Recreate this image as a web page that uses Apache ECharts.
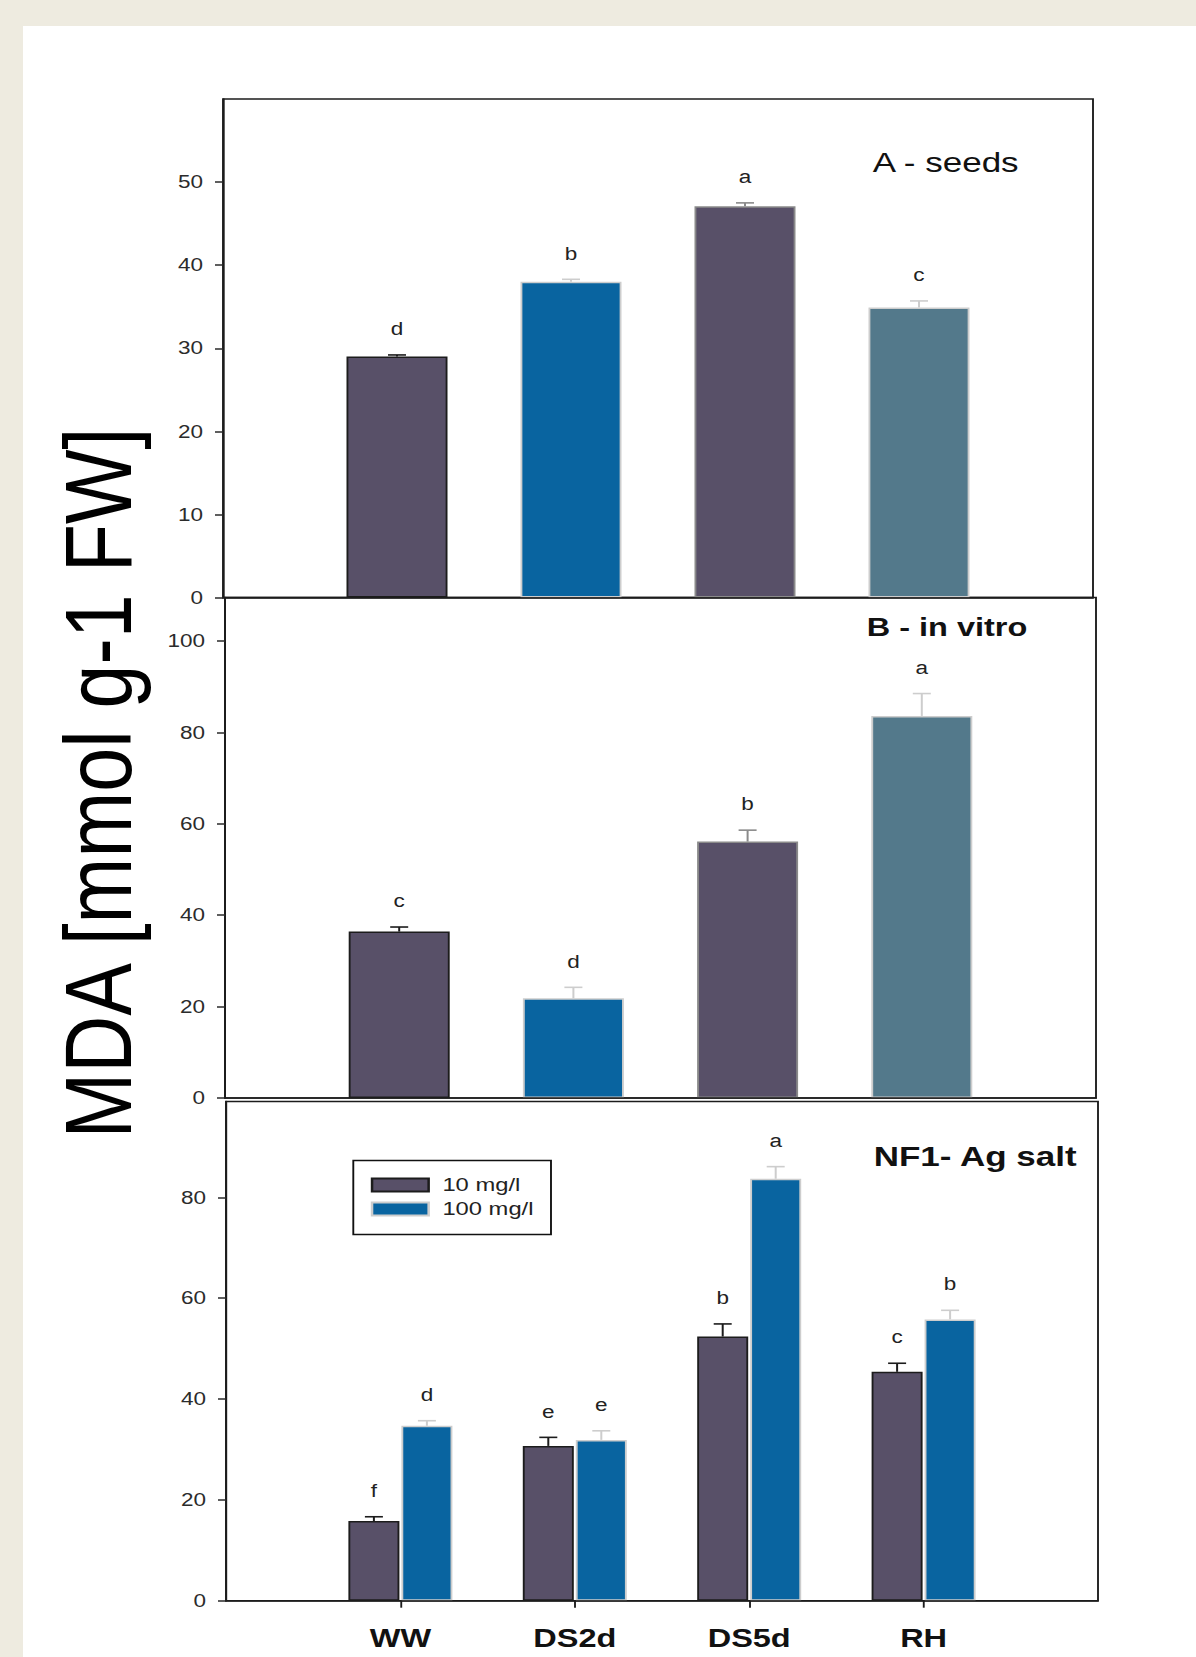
<!DOCTYPE html>
<html>
<head>
<meta charset="utf-8">
<script src="https://cdn.jsdelivr.net/npm/echarts@6/dist/echarts.min.js"></script>
<style>
  html, body { margin: 0; padding: 0; width: 1196px; height: 1657px; overflow: hidden; background: #EEEBE0; }
  #paper { position: absolute; left: 23px; top: 26px; right: 0; bottom: 0; background: #ffffff; }
  #chart { position: absolute; left: 0; top: 0; width: 957px; height: 1657px; transform: scaleX(1.25); transform-origin: 0 0; }
</style>
</head>
<body>
<div id="paper"></div>
<div id="chart"></div>
<script>
// ---------------- data ----------------
const categories = ['WW', 'DS2d', 'DS5d', 'RH'];

const seedsValues  = [29.0, 38.0, 47.1, 34.9];
const seedsErrors  = [0.2, 0.3, 0.4, 0.8];
const seedsLetters = ['d', 'b', 'a', 'c'];

const vitroValues  = [36.4, 21.8, 56.1, 83.6];
const vitroErrors  = [1.0, 2.4, 2.5, 4.9];
const vitroLetters = ['c', 'd', 'b', 'a'];

const salt10Values   = [15.8, 30.7, 52.4, 45.4];
const salt10Errors   = [0.85, 1.7, 2.5, 1.7];
const salt10Letters  = ['f', 'e', 'b', 'c'];

const salt100Values  = [34.7, 31.9, 83.7, 55.8];
const salt100Errors  = [1.0, 1.8, 2.4, 1.8];
const salt100Letters = ['d', 'e', 'a', 'b'];

const seedsTicks = [0, 10, 20, 30, 40, 50];
const vitroTicks = [0, 20, 40, 60, 80, 100];
const saltTicks  = [0, 20, 40, 60, 80];

const panelTitles = ['A - seeds', 'B - in vitro', 'NF1- Ag salt'];
const legendNames = ['10 mg/l', '100 mg/l'];
const yTitle = 'MDA [mmol g-1 FW]';

// ---------------- styling / layout ----------------
const SX = 1.25;                      // horizontal stretch of the figure (CSS transform)
const sx = px => px / SX;             // screen x -> chart x
const FONT = '"Liberation Sans", Arial, Helvetica, sans-serif';

const DARK = '#585068', BLUE = '#0964A0', TEAL = '#53798B';
const BLACK_EDGE = '#1c1c1c', GREY_EDGE = '#8a8a8a', LIGHT_EDGE = '#cdcdcd';

const singleFill = [DARK, BLUE, DARK, TEAL];
const singleEdge = [BLACK_EDGE, LIGHT_EDGE, GREY_EDGE, LIGHT_EDGE];

const xCats = [''].concat(categories, ['']);

const grids = [
  { left: sx(223), top: 99,     width: sx(870), height: 498.6 },
  { left: sx(225), top: 597.6,  width: sx(871), height: 500.3 },
  { left: sx(226), top: 1101.6, width: sx(872), height: 499.1 }
];
const yMax = [60, 109.5, 99];
const yTicks = [seedsTicks, vitroTicks, saltTicks];

function makeYAxis(i) {
  return {
    gridIndex: i, type: 'value', min: 0, max: yMax[i], interval: 10,
    axisLine: { show: true, lineStyle: { color: '#1c1c1c', width: 1.5 } },
    axisTick: { show: true, length: sx(8), lineStyle: { color: '#2a2a2a', width: 1.5 }, customValues: yTicks[i] },
    axisLabel: { customValues: yTicks[i], margin: sx(20), color: '#2b2b2b', fontSize: 18, fontFamily: FONT },
    splitLine: { show: false }
  };
}
function makeXAxis(i) {
  const isLast = i === 2;
  return {
    gridIndex: i, type: 'category', data: xCats, boundaryGap: false, z: 4,
    axisLine: { show: true, lineStyle: { color: '#1c1c1c', width: 1.5 } },
    axisTick: { show: isLast, length: 7, interval: (idx, v) => v !== '', lineStyle: { color: '#1c1c1c', width: 1.5 } },
    axisLabel: { show: isLast, interval: 0, margin: 24, fontSize: 26, fontWeight: 'bold', color: '#111', fontFamily: FONT },
    splitLine: { show: false }
  };
}

function singleBars(name, gi, values) {
  return {
    name, type: 'bar', xAxisIndex: gi, yAxisIndex: gi, barWidth: sx(101),
    data: values.map((v, i) => ({
      value: [i + 1, v],
      itemStyle: { color: singleFill[i], borderColor: singleEdge[i], borderWidth: 1.5 }
    })),
    silent: true
  };
}

function errorSeries(gi, values, errors, letters, offset, edge) {
  return {
    type: 'custom', xAxisIndex: gi, yAxisIndex: gi, z: 5, silent: true,
    data: values.map((v, i) => [i + 1, v, errors[i]]),
    encode: { x: 0, y: 1 },
    renderItem(params, api) {
      const idx = params.dataIndex;
      const c = Array.isArray(edge) ? edge[idx] : edge;
      const base = api.coord([api.value(0), api.value(1)]);
      const top = api.coord([api.value(0), api.value(1) + api.value(2)]);
      const cx = base[0] + offset;
      const hw = sx(9);
      return {
        type: 'group',
        children: [
          { type: 'line', shape: { x1: cx, y1: base[1], x2: cx, y2: top[1] }, style: { stroke: c, lineWidth: 1.6 } },
          { type: 'line', shape: { x1: cx - hw, y1: top[1], x2: cx + hw, y2: top[1] }, style: { stroke: c, lineWidth: 1.6 } },
          { type: 'text', style: { text: letters[idx], x: cx, y: top[1] - 26, align: 'center', verticalAlign: 'middle',
              fontSize: 18, fontFamily: FONT, fill: '#222' } }
        ]
      };
    }
  };
}

const C_BAR = sx(51);
const C_GAP = sx(2);
const cOff = (C_BAR + C_GAP) / 2;

const option = {
  animation: false,
  backgroundColor: 'transparent',
  grid: grids.map(g => Object.assign({ show: true, borderColor: '#1c1c1c', borderWidth: 1.5, backgroundColor: 'transparent' }, g)),
  xAxis: [0, 1, 2].map(makeXAxis),
  yAxis: [0, 1, 2].map(makeYAxis),
  title: [
    { text: panelTitles[0], left: sx(872.7), top: 148, padding: 0,
      textStyle: { fontSize: 28, fontWeight: 'normal', fontFamily: FONT, color: '#111' } },
    { text: panelTitles[1], left: sx(866.7), top: 613.3, padding: 0,
      textStyle: { fontSize: 26, fontWeight: 'bold', fontFamily: FONT, color: '#111' } },
    { text: panelTitles[2], left: sx(873.7), top: 1142.3, padding: 0,
      textStyle: { fontSize: 28, fontWeight: 'bold', fontFamily: FONT, color: '#111' } }
  ],
  legend: {
    data: legendNames, orient: 'vertical', left: sx(353.3), top: 1160.5,
    padding: [15, 14, 16, 14], itemWidth: sx(56.6), itemHeight: 13, itemGap: 5,
    borderColor: '#111', borderWidth: 1.5, borderRadius: 0, icon: 'rect', selectedMode: false,
    textStyle: { fontSize: 19, fontFamily: FONT, color: '#222', padding: [0, 0, 0, 6] }
  },
  graphic: [
    { type: 'text', x: sx(98), y: 783, rotation: Math.PI / 2, scaleY: 0.95, silent: true,
      style: { text: yTitle, fontSize: 79, fontFamily: FONT, fill: '#000', align: 'center', verticalAlign: 'middle' } }
  ],
  series: [
    singleBars('A - seeds', 0, seedsValues),
    errorSeries(0, seedsValues, seedsErrors, seedsLetters, 0, singleEdge),
    singleBars('B - in vitro', 1, vitroValues),
    errorSeries(1, vitroValues, vitroErrors, vitroLetters, 0, singleEdge),
    {
      name: legendNames[0], type: 'bar', xAxisIndex: 2, yAxisIndex: 2, barWidth: C_BAR, barGap: (C_GAP / C_BAR * 100) + '%',
      data: salt10Values.map((v, i) => [i + 1, v]),
      itemStyle: { color: DARK, borderColor: BLACK_EDGE, borderWidth: 1.5 }, silent: true
    },
    {
      name: legendNames[1], type: 'bar', xAxisIndex: 2, yAxisIndex: 2, barWidth: C_BAR, barGap: (C_GAP / C_BAR * 100) + '%',
      data: salt100Values.map((v, i) => [i + 1, v]),
      itemStyle: { color: BLUE, borderColor: LIGHT_EDGE, borderWidth: 1.5 }, silent: true
    },
    errorSeries(2, salt10Values, salt10Errors, salt10Letters, -cOff, BLACK_EDGE),
    errorSeries(2, salt100Values, salt100Errors, salt100Letters, cOff, LIGHT_EDGE)
  ]
};

const chart = echarts.init(document.getElementById('chart'), null, { renderer: 'svg', width: 957, height: 1657 });
chart.setOption(option);
</script>
</body>
</html>
